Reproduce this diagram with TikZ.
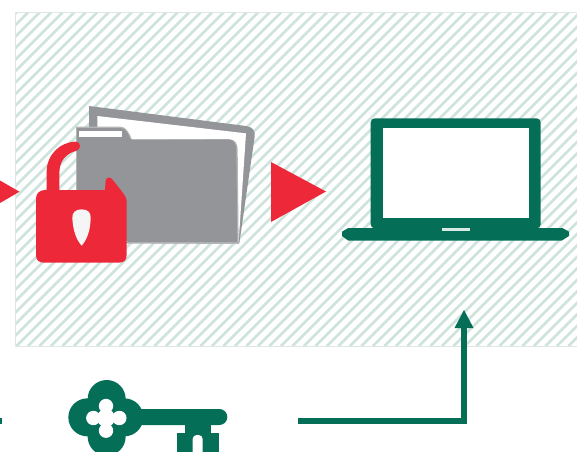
\documentclass[tikz,border=0pt]{standalone}
\usetikzlibrary{arrows.meta}
\definecolor{kgreen}{HTML}{046E56}
\definecolor{kred}{HTML}{ED2939}
\definecolor{kgrey}{HTML}{939598}
\definecolor{khatch}{HTML}{CFE3DD}
\definecolor{kedge}{HTML}{DDE8E5}
\tikzset{
  redtri/.style={fill=kred,draw=none},
  greenfill/.style={fill=kgreen,draw=none},
  greyfill/.style={fill=kgrey,draw=none},
  whitefill/.style={fill=white,draw=none},
  flow/.style={draw=kgreen,line width=6.4pt,line join=miter},
}
\begin{document}
\begin{tikzpicture}[x=1pt,y=-1pt]
\useasboundingbox (0,0) rectangle (577,451);
\fill[white] (0,0) rectangle (577,451);
% hatched panel
\begin{scope}
\clip (15,12.5) rectangle (577,346);
\foreach \c in {-340,-328.5,...,580}
  \draw[khatch,line width=2.6pt] (\c,346) -- ++(334,-334);
\end{scope}
\draw[kedge,line width=1pt] (577,12.5) -- (15,12.5) -- (15,346) -- (577,346);
% triangles
\fill[redtri] (0,180.5) -- (19.5,191.7) -- (0,203) -- cycle;
\fill[redtri] (271,162) -- (326,191.5) -- (271,222) -- cycle;
% folder and lock
\begin{scope}[shift={(0,90)},x=0.33333pt,y=-0.33333pt]
  \fill[greyfill] (267,48) -- (738,108) .. controls (757,111) and (766,120) .. (764,140) -- (718,460) -- (292,460) -- (267,112) -- cycle;
  \fill[whitefill] (292,78) -- (738,130) -- (716,455) -- (292,455) -- cycle;
  \fill[fill=kgrey!70!white] (228,110) -- (362,110) .. controls (378,110) and (388,128) .. (396,150) -- (688,148) .. controls (704,148) and (713,160) .. (713,178) -- (716,462) -- (385,460) -- (228,300) -- cycle;
  \fill[greyfill] (231,114) -- (362,114) .. controls (376,114) and (385,132) .. (392,148) -- (686,148) .. controls (700,148) and (709,162) .. (709,178) -- (712,456) -- (385,456) -- (231,300) -- cycle;
  \fill[whitefill] (238,122) rectangle (366,140);
  % shackle
  \fill[redtri] (140,310) -- (140,245) .. controls (140,195) and (180,155) .. (228,155)
     .. controls (243,155) and (244,178) .. (230,182)
     .. controls (200,190) and (178,210) .. (178,250) -- (178,310) -- cycle;
  % lock body
  \fill[redtri] (108,325) .. controls (108,310) and (120,300) .. (135,300) -- (315,300) -- (317,272)
     .. controls (318,262) and (330,259) .. (337,268) -- (370,310)
     .. controls (377,319) and (380,325) .. (380,340) -- (380,495)
     .. controls (380,510) and (372,518) .. (358,518) -- (132,518)
     .. controls (116,518) and (108,510) .. (108,495) -- cycle;
  % keyhole
  \fill[fill=white!96!black] (245,358) .. controls (264,358) and (273,368) .. (272,385)
     .. controls (271,420) and (262,448) .. (245,467)
     .. controls (228,448) and (219,420) .. (217,385)
     .. controls (216,368) and (226,358) .. (245,358) -- cycle;
\end{scope}
% laptop
\begin{scope}[shift={(330,100)},x=0.33333pt,y=-0.33333pt]
  \fill[greenfill,rounded corners=4pt] (122,55) rectangle (632,385);
  \fill[whitefill] (160,85) rectangle (597,355);
  \fill[greenfill] (36,395) -- (55,384) -- (697,384) -- (717,395) -- (717,408) -- (695,422) -- (55,422) -- (36,408) -- cycle;
  \fill[fill=white!85!kgreen] (335,384) rectangle (420,393);
\end{scope}
% key
\begin{scope}[shift={(0,330)},x=0.33333pt,y=-0.33333pt]
  \begin{scope}
  \clip (190,130) rectangle (700,363);
  \fill[greenfill] (320,207) circle[radius=19pt];
  \fill[greenfill] (262,262) circle[radius=19pt];
  \fill[greenfill] (373,262) circle[radius=19pt];
  \fill[greenfill] (320,320) circle[radius=19pt];
  \fill[greenfill] (320,262) circle[radius=22pt];
  \fill[greenfill,rounded corners=8pt] (390,237) rectangle (682,285);
  \fill[greenfill] (555,270) rectangle (632,315);
  \fill[greenfill] (530,310) rectangle (657,370);
  \fill[whitefill,rounded corners=4pt] (578,315) rectangle (608,400);
  \fill[whitefill] (318,228) circle[radius=7.2pt];
  \fill[whitefill] (280,264) circle[radius=7.2pt];
  \fill[whitefill] (358,264) circle[radius=7.2pt];
  \fill[whitefill] (318,302) circle[radius=7.2pt];
  \fill[whitefill] (318,264) circle[radius=9pt];
  \end{scope}
\end{scope}
% connectors
\coordinate (keyout) at (298,421);
\coordinate (elbow) at (464,421);
\coordinate (laptopin) at (464,310);
\coordinate (neck) at (464,327);
\coordinate (leftstub) at (0,421);
\coordinate (leftend) at (2,421);
\draw[flow] (keyout) -- (elbow) -- (neck);
\fill[greenfill] (laptopin) -- (473.5,328) -- (454.5,328) -- cycle;
\draw[flow] (leftstub) -- (leftend);
\end{tikzpicture}
\end{document}
